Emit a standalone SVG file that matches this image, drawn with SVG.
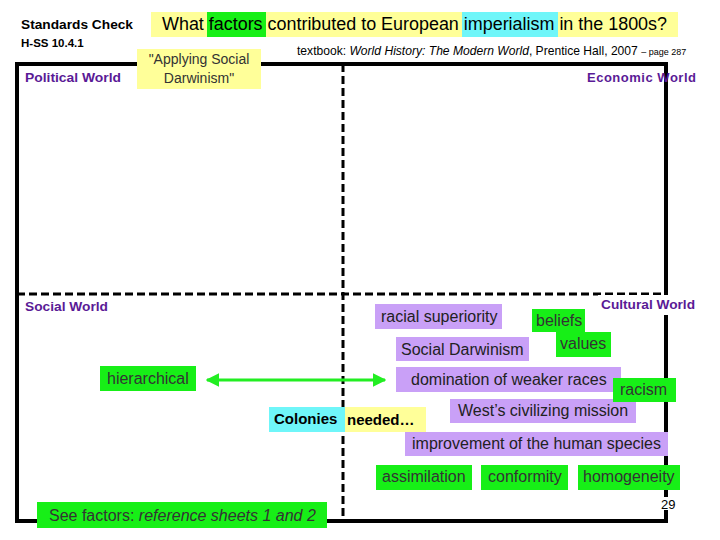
<svg xmlns="http://www.w3.org/2000/svg" width="720" height="540" viewBox="0 0 720 540">
<defs>
<style>
text{font-family:"Liberation Sans",Arial,sans-serif;}
.hdr{font-weight:bold;font-size:13px;fill:#5a1a96;}
.pb{fill:#c9a0f7;}
.gb{fill:#17ef17;}
.yb{fill:#ffff99;}
.cb{fill:#6ff6f9;}
.pt{font-size:16px;fill:#222;}
.gt{font-size:16px;fill:#333;}
.dash{stroke:#000;stroke-width:3;stroke-dasharray:8 4;fill:none;}
</style>
<marker id="ah" viewBox="0 0 10 10" refX="9" refY="5" markerWidth="4.5" markerHeight="4.5" orient="auto-start-reverse">
<path d="M0,0 L10,5 L0,10 z" fill="#22ee22"/>
</marker>
</defs>
<rect width="720" height="540" fill="#fff"/>

<g id="frame">
<rect x="17" y="64" width="649" height="457" fill="none" stroke="#000" stroke-width="4"/>
<line class="dash" x1="17" y1="294" x2="666" y2="294"/>
<line class="dash" x1="343" y1="64" x2="343" y2="521"/>
</g>

<g id="header">
<text x="21" y="29" font-weight="bold" font-size="13" fill="#000" textLength="112" lengthAdjust="spacingAndGlyphs">Standards Check</text>
<text x="21" y="47" font-weight="bold" font-size="11.5" fill="#000">H-SS 10.4.1</text>
<rect class="yb" x="151" y="12" width="527" height="25"/>
<rect class="gb" x="207" y="12" width="59" height="25"/>
<rect class="cb" x="462" y="12" width="96" height="25"/>
<text x="162" y="30" font-size="17.5" fill="#000" textLength="505" lengthAdjust="spacingAndGlyphs">What factors contributed to European imperialism in the 1800s?</text>
<text x="297" y="55" font-size="12.1" fill="#000">textbook: <tspan font-style="italic">World History: The Modern World</tspan>, Prentice Hall, 2007 <tspan font-size="9">– page 287</tspan></text>
</g>

<g id="applying">
<rect class="yb" x="137" y="49" width="124" height="40"/>
<text x="199" y="64" font-size="14" fill="#333" text-anchor="middle">"Applying Social</text>
<text x="199" y="83" font-size="14" fill="#333" text-anchor="middle">Darwinism"</text>
</g>

<g id="quadrant-labels">
<text class="hdr" x="25" y="82" textLength="96" lengthAdjust="spacingAndGlyphs">Political World</text>
<text class="hdr" x="587" y="82" textLength="109" lengthAdjust="spacing">Economic World</text>
<text class="hdr" x="25" y="311" textLength="83" lengthAdjust="spacingAndGlyphs">Social World</text>
<rect x="598" y="295" width="102" height="20" fill="#fff"/>
<text class="hdr" x="601" y="309" textLength="94" lengthAdjust="spacingAndGlyphs">Cultural World</text>
</g>

<g id="racial-superiority"><rect class="pb" x="375" y="304" width="127" height="25"/><text class="pt" x="381" y="322">racial superiority</text></g>
<g id="social-darwinism"><rect class="pb" x="396" y="337" width="133" height="24"/><text class="pt" x="401" y="355">Social Darwinism</text></g>
<g id="domination"><rect class="pb" x="396" y="367" width="225" height="25"/><text class="pt" x="411" y="385">domination of weaker races</text></g>
<g id="civilizing"><rect class="pb" x="450" y="399" width="186" height="24"/><text class="pt" x="458" y="416">West’s civilizing mission</text></g>
<g id="improvement"><rect class="pb" x="405" y="432" width="263" height="24"/><text class="pt" x="412" y="449">improvement of the human species</text></g>

<g id="beliefs"><rect class="gb" x="532" y="309" width="53" height="23"/><text class="gt" x="536" y="326">beliefs</text></g>
<g id="values"><rect class="gb" x="556" y="332" width="55" height="25"/><text class="gt" x="560" y="349">values</text></g>
<g id="racism"><rect class="gb" x="613" y="378" width="63" height="24"/><text class="gt" x="620" y="395">racism</text></g>
<g id="hierarchical"><rect class="gb" x="100" y="366" width="96" height="25"/><text class="gt" x="107" y="384">hierarchical</text></g>
<g id="assimilation"><rect class="gb" x="376" y="465" width="96" height="25"/><text class="gt" x="382" y="482">assimilation</text></g>
<g id="conformity"><rect class="gb" x="481" y="465" width="87" height="25"/><text class="gt" x="488" y="482">conformity</text></g>
<g id="homogeneity"><rect class="gb" x="578" y="465" width="102" height="25"/><text class="gt" x="583" y="482">homogeneity</text></g>

<g id="colonies">
<rect class="cb" x="269" y="407" width="76" height="25"/>
<rect class="yb" x="345" y="407" width="81" height="25"/>
<text x="274" y="424" font-size="15" font-weight="bold" fill="#000">Colonies</text>
<text x="347" y="425" font-size="15" font-weight="bold" fill="#000">needed…</text>
</g>

<g id="see-factors">
<rect class="gb" x="37" y="502" width="290" height="26"/>
<text x="49" y="521" font-size="16" fill="#333">See factors: <tspan font-style="italic">reference sheets 1 and 2</tspan></text>
</g>

<g id="page-number">
<rect x="661" y="497" width="17" height="13" fill="#fff"/>
<text x="661" y="509" font-size="13" fill="#000">29</text>
</g>

<g id="connectors">
<line x1="207" y1="380" x2="385" y2="380" stroke="#22ee22" stroke-width="3" marker-start="url(#ah)" marker-end="url(#ah)"/>
</g>
</svg>
